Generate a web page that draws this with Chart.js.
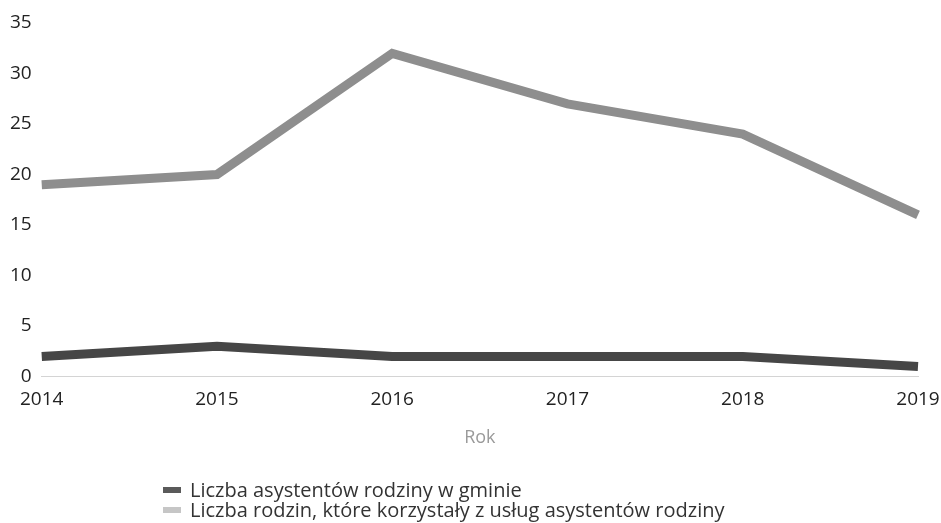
<!DOCTYPE html>
<html lang="pl">
<head>
<meta charset="utf-8">
<script src="https://cdn.jsdelivr.net/npm/chart.js@4/dist/chart.umd.min.js"></script>
<style>
  html, body { margin: 0; padding: 0; background: #fff; }
  #wrap { position: relative; width: 941px; height: 523px; }
  #legend {
    position: absolute; left: 163px; top: 480px;
    font-family: "Open Sans", sans-serif; font-size: 20px; color: #333;
    line-height: 20px;
  }
  #legend .item { display: flex; align-items: center; white-space: nowrap; height: 20px; }
  #legend .sw { width: 18px; height: 6px; margin-right: 9px; display: inline-block; }
</style>
</head>
<body>
<div id="wrap">
  <canvas id="c" width="941" height="523"></canvas>
  <div id="legend"></div>
</div>
<script>
// Years on the horizontal axis
const years = ['2014', '2015', '2016', '2017', '2018', '2019'];
// Number of family assistants in the municipality
const assistants = [2, 3, 2, 2, 2, 1];
// Number of families using the assistants' services
const families = [19, 20, 32, 27, 24, 16];
// Series names
const seriesNames = [
  'Liczba asystentów rodziny w gminie',
  'Liczba rodzin, które korzystały z usług asystentów rodziny'
];
const axisTitle = 'Rok';

const lineColors = ['#464646', '#8e8e8e'];
const swatchColors = ['#5a5a5a', '#c6c6c6'];

const ctx = document.getElementById('c').getContext('2d');
const chart = new Chart(ctx, {
  type: 'line',
  data: {
    labels: years,
    datasets: [
      { label: seriesNames[0], data: assistants, borderColor: lineColors[0], backgroundColor: lineColors[0],
        borderWidth: 9, pointRadius: 0, tension: 0, fill: false },
      { label: seriesNames[1], data: families, borderColor: lineColors[1], backgroundColor: lineColors[1],
        borderWidth: 9, pointRadius: 0, tension: 0, fill: false }
    ]
  },
  options: {
    responsive: false,
    animation: false,
    layout: { padding: { left: 0, right: 0, top: 23, bottom: 70 } },
    plugins: {
      legend: { display: false },
      tooltip: { enabled: false }
    },
    scales: {
      x: {
        offset: false,
        // let the last year label hang a little past the plot edge
        afterFit(scale) { scale.paddingRight = 23; },
        grid: { display: false, drawTicks: false },
        border: { display: true, color: '#d4d4d4', width: 1, dash: [3, 4] },
        ticks: { color: '#222', padding: 12, maxRotation: 0,
                 font: { family: 'Open Sans', size: 19 } },
        title: { display: true, text: axisTitle, color: '#9a9a9a', padding: { top: 4 },
                 font: { family: 'Open Sans', size: 18 } }
      },
      y: {
        min: 0, max: 35,
        grid: { display: false, drawTicks: false },
        border: { display: false },
        ticks: { stepSize: 5, color: '#222', padding: 10,
                 font: { family: 'Open Sans', size: 19 } }
      }
    }
  }
});

// Legend below the chart, built from the dataset labels
const legend = document.getElementById('legend');
chart.data.datasets.forEach((ds, i) => {
  const row = document.createElement('div');
  row.className = 'item';
  const sw = document.createElement('span');
  sw.className = 'sw';
  sw.style.background = swatchColors[i];
  const txt = document.createElement('span');
  txt.textContent = ds.label;
  row.appendChild(sw);
  row.appendChild(txt);
  legend.appendChild(row);
});
</script>
</body>
</html>
